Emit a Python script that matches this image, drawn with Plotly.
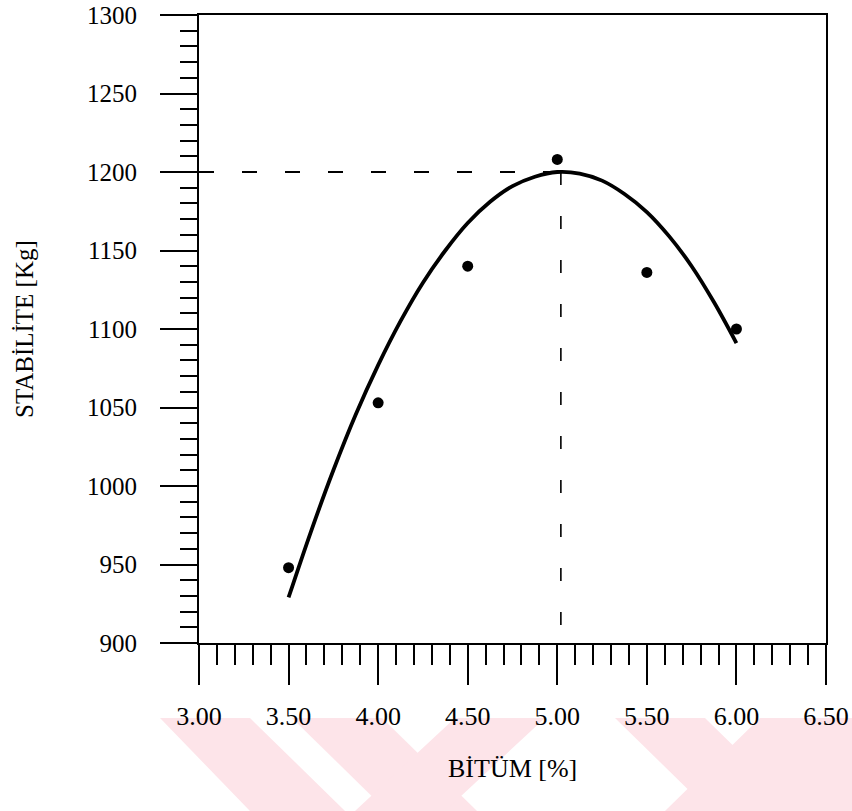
import plotly.graph_objects as go

# ---- data ----
bitumen = [3.5, 4.0, 4.5, 5.0, 5.5, 6.0]
stability = [948, 1053, 1140, 1208, 1136, 1100]

fit_bitumen = [3.5, 3.625, 3.75, 3.875, 4.0, 4.125, 4.25, 4.375, 4.5, 4.625, 4.75,
               4.875, 5.0, 5.125, 5.25, 5.375, 5.5, 5.625, 5.75, 5.875, 6.0]
fit_stability = [929, 971, 1010, 1045.5, 1077, 1105, 1129.5, 1150, 1167.5, 1181, 1191,
                 1197, 1200, 1199, 1194.5, 1186, 1174.5, 1159, 1140, 1117, 1091]

optimum_bitumen = 5.02
optimum_stability = 1200

x_tick_vals = [3.0, 3.5, 4.0, 4.5, 5.0, 5.5, 6.0, 6.5]
x_tick_text = ["3.00", "3.50", "4.00", "4.50", "5.00", "5.50", "6.00", "6.50"]
y_tick_vals = [900, 950, 1000, 1050, 1100, 1150, 1200, 1250, 1300]

x_title = "BİTÜM [%]"
y_title = "STABİLİTE [Kg]"

FONT = "Liberation Serif"

fig = go.Figure()

# optimum guide lines
fig.add_trace(go.Scatter(
    x=[3.0, optimum_bitumen], y=[optimum_stability, optimum_stability],
    mode="lines", line=dict(color="black", width=1.8, dash="15px,28px"),
    hoverinfo="skip", showlegend=False))
fig.add_trace(go.Scatter(
    x=[optimum_bitumen, optimum_bitumen], y=[optimum_stability, 900],
    mode="lines", line=dict(color="black", width=1.6, dash="13px,31px"),
    hoverinfo="skip", showlegend=False))

# fitted curve
fig.add_trace(go.Scatter(
    x=fit_bitumen, y=fit_stability, mode="lines",
    line=dict(color="black", width=3.8, shape="spline", smoothing=1.0),
    showlegend=False))

# measured points
fig.add_trace(go.Scatter(
    x=bitumen, y=stability, mode="markers",
    marker=dict(color="black", size=11, symbol="circle"),
    showlegend=False))

# light pink watermark stripes (decorative background)
def px_to_paper(px, py):
    return (px - 199) / 627.0, (643 - py) / 628.0

stripes = [
    [(160, 718), (250, 718), (345, 811), (250, 811)],
    [(292, 718), (382, 718), (477, 811), (387, 811)],
    [(455, 718), (545, 718), (445, 811), (355, 811)],
    [(615, 718), (705, 718), (800, 811), (710, 811)],
    [(760, 718), (852, 718), (852, 811), (665, 811)],
]
shapes = []
for poly in stripes:
    pts = [px_to_paper(a, b) for a, b in poly]
    path = "M " + " L ".join(f"{a:.4f},{b:.4f}" for a, b in pts) + " Z"
    shapes.append(dict(type="path", path=path, xref="paper", yref="paper",
                       fillcolor="#fde4e9", line=dict(width=0), layer="below"))

annotations = [
    dict(text=x_title, x=0.5, y=(643 - 768) / 628.0, xref="paper", yref="paper",
         xanchor="center", yanchor="middle", showarrow=False,
         font=dict(family=FONT, size=26, color="black")),
    dict(text=y_title, x=(24 - 199) / 627.0, y=0.5, xref="paper", yref="paper",
         xanchor="center", yanchor="middle", showarrow=False, textangle=-90,
         font=dict(family=FONT, size=25, color="black")),
]

fig.update_layout(
    width=852, height=811,
    margin=dict(l=199, r=26, t=15, b=168),
    paper_bgcolor="white", plot_bgcolor="rgba(0,0,0,0)",
    font=dict(family=FONT, size=25, color="black"),
    shapes=shapes,
    annotations=annotations,
    xaxis=dict(
        range=[3.0, 6.5], tickvals=x_tick_vals, ticktext=x_tick_text,
        ticks="outside", ticklen=40, tickwidth=1.5, tickcolor="black",
        minor=dict(dtick=0.1, tick0=3.0, ticks="outside", ticklen=20,
                   tickwidth=1.5, tickcolor="black", showgrid=False),
        showline=True, linecolor="black", linewidth=2, mirror=True,
        showgrid=False, zeroline=False, automargin=False,
        tickfont=dict(family=FONT, size=26),
        ticklabelstandoff=9, ticklabeloverflow="allow",
    ),
    yaxis=dict(
        range=[900, 1300], tickvals=y_tick_vals,
        ticks="outside", ticklen=37, tickwidth=1.5, tickcolor="black",
        minor=dict(dtick=10, tick0=900, ticks="outside", ticklen=17,
                   tickwidth=1.5, tickcolor="black", showgrid=False),
        showline=True, linecolor="black", linewidth=2, mirror=True,
        showgrid=False, zeroline=False, automargin=False,
        tickfont=dict(family=FONT, size=25),
        ticklabelstandoff=18, ticklabeloverflow="allow",
    ),
)

# remove the page's default 8px body margin so the figure fills the window exactly
fig.write_html("out.html",
               config={"displayModeBar": False},
               post_script="document.body.style.margin='0';document.body.style.overflow='hidden';")
